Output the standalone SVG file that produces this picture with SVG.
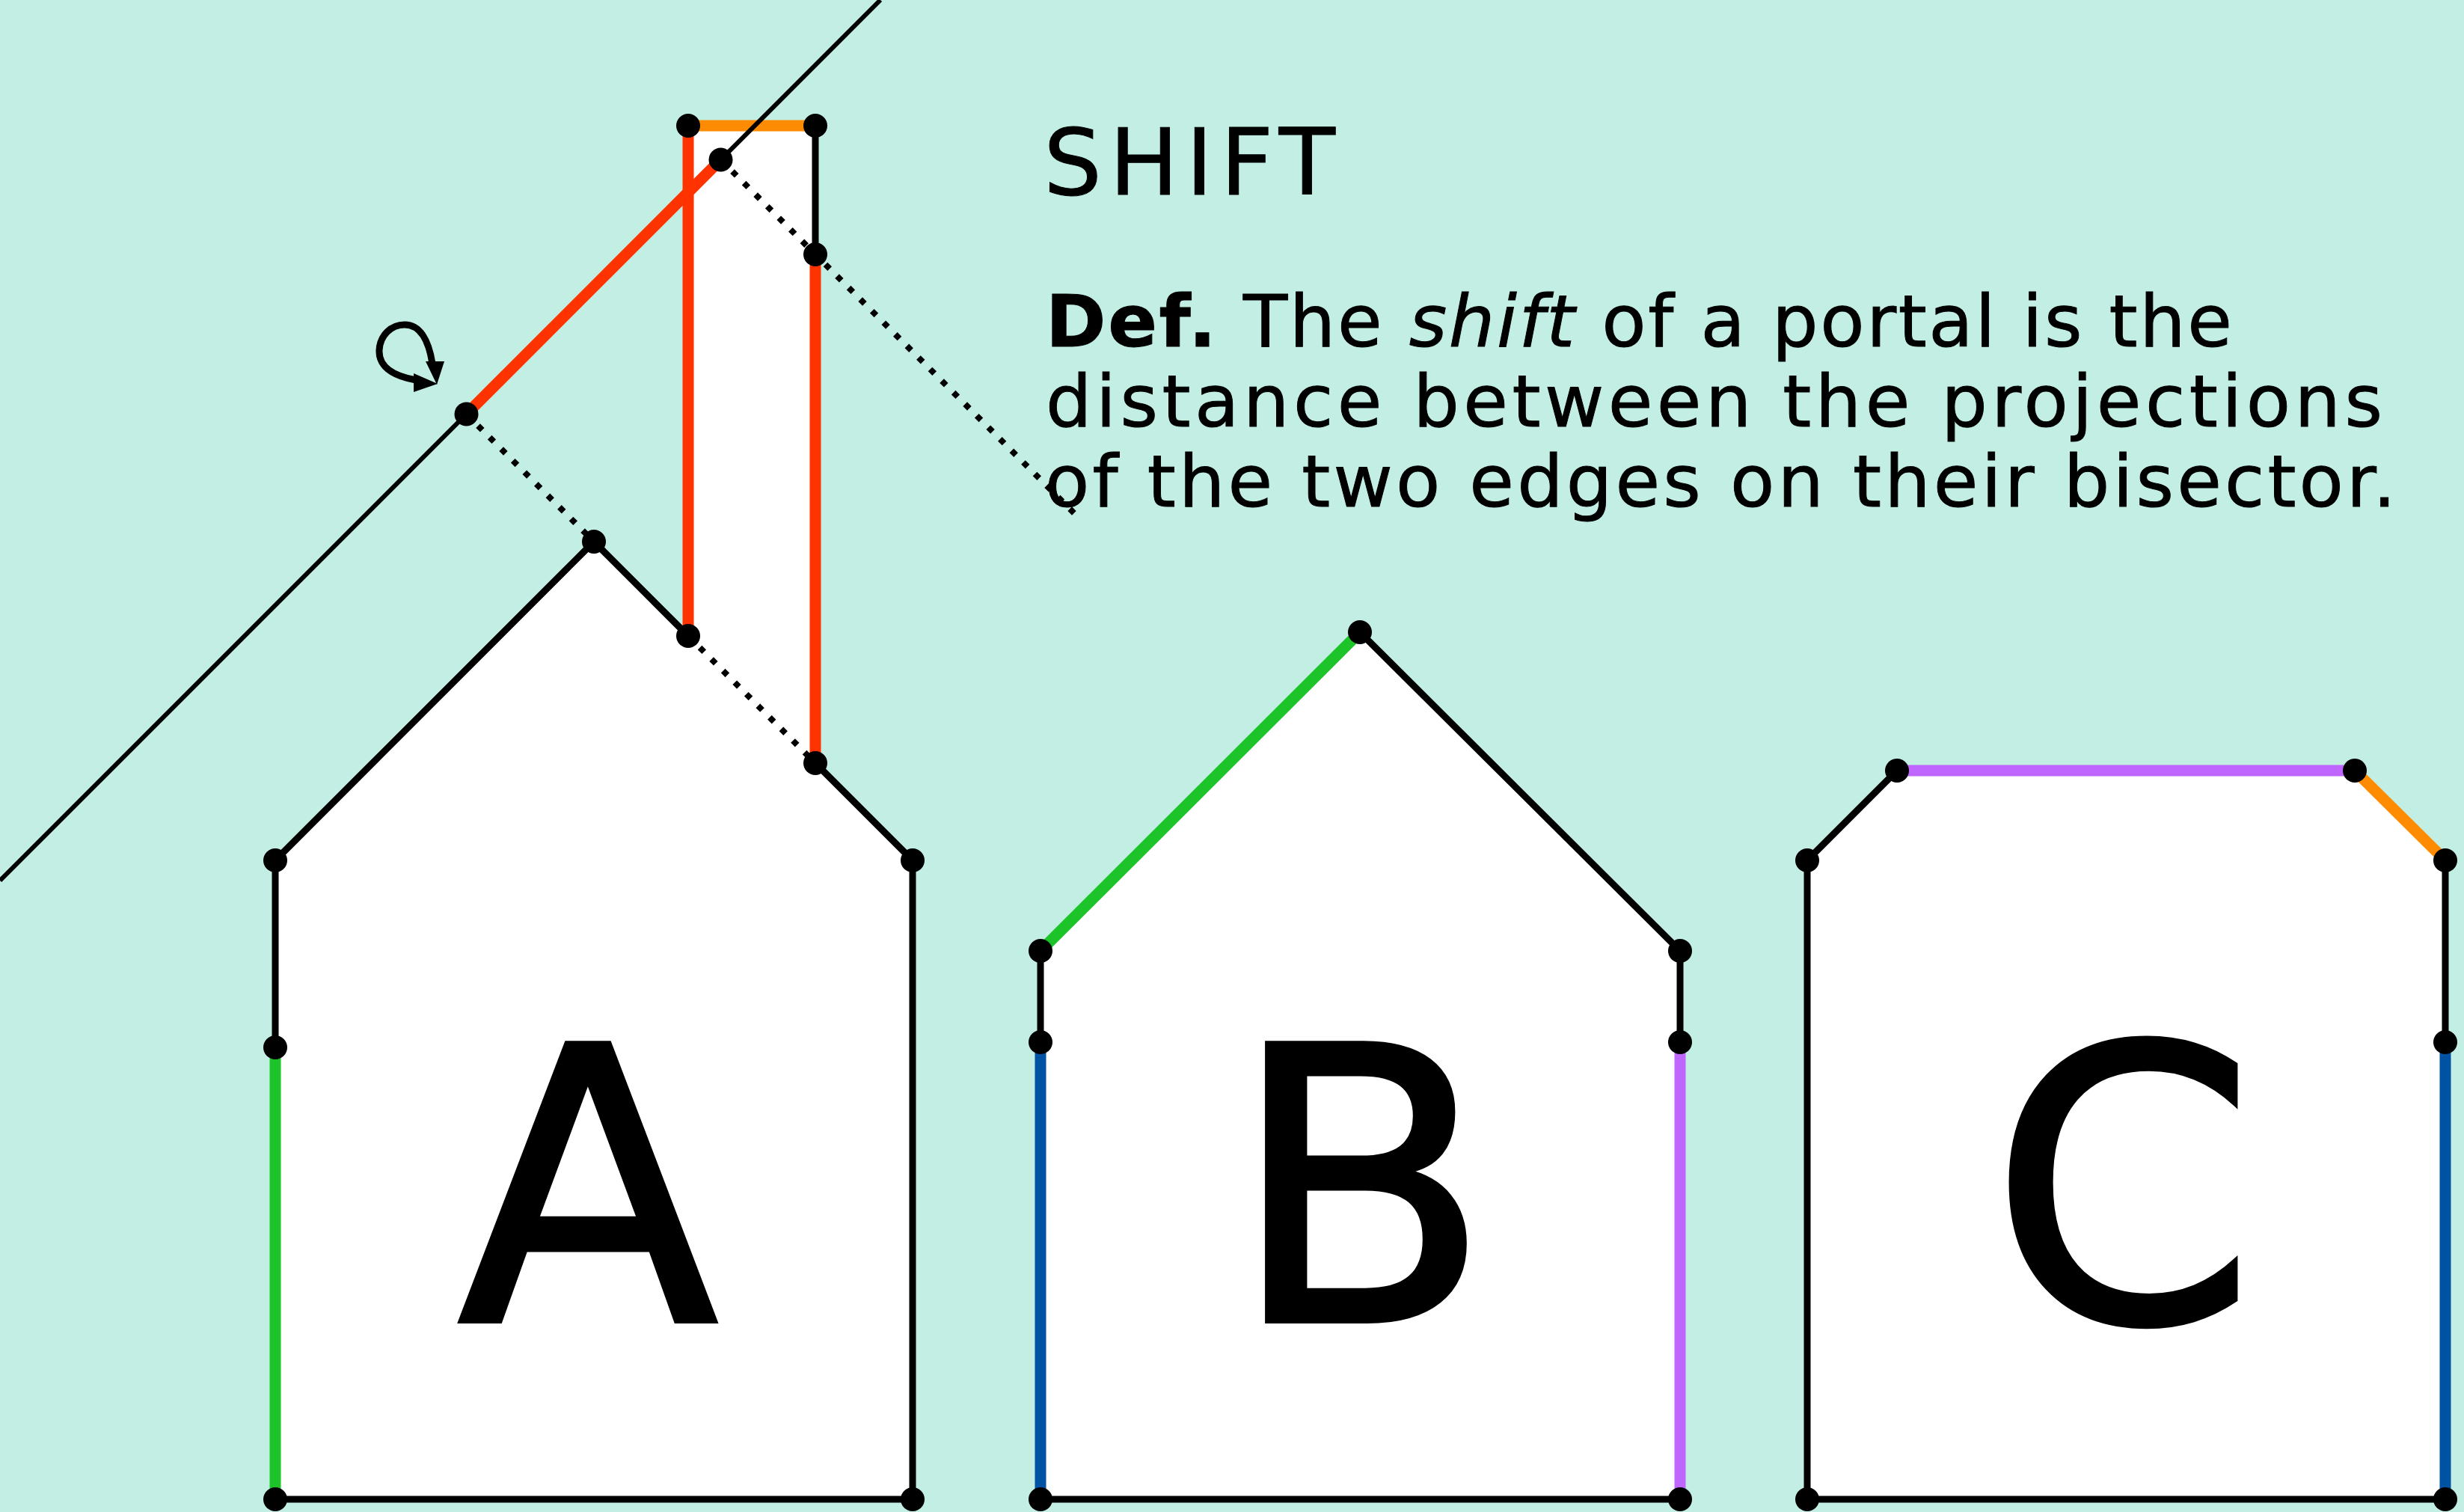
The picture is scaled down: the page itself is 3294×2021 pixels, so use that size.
<svg xmlns="http://www.w3.org/2000/svg" width="3294" height="2021" viewBox="0 0 3294 2021">
  <style>
    .fill { fill: #ffffff; stroke: none; }
    .edge { fill: none; stroke: #000000; stroke-width: 9; stroke-linecap: round; }
    .portal { fill: none; stroke-width: 15; stroke-linecap: butt; }
    .red { stroke: #ff3300; }
    .orange { stroke: #ff8c00; }
    .green { stroke: #1cc42a; }
    .blue { stroke: #0052a3; }
    .purple { stroke: #bf66ff; }
    .guide { fill: none; stroke: #000000; stroke-width: 6; }
    .proj { fill: none; stroke: #000000; stroke-width: 8; stroke-dasharray: 8 14; }
    .pt { fill: #000000; }
    .title { font-family: "DejaVu Sans", "Liberation Sans", sans-serif; font-size: 123px; fill: #000000; stroke: #000000; stroke-width: 1; }
    .body { font-family: "DejaVu Sans", "Liberation Sans", sans-serif; font-size: 97px; fill: #000000; stroke: #000000; stroke-width: 1; }
    .letter { font-family: "DejaVu Sans", "Liberation Sans", sans-serif; font-size: 510px; fill: #000000; stroke: #000000; stroke-width: 6; text-anchor: middle; }
  </style>

  <rect x="0" y="0" width="3294" height="2021" fill="#c3eee4"/>

  <!-- Polygon A with its raised chimney -->
  <g id="house-a">
    <polygon class="fill" points="368,2004 368,1150 794,724 920,850 920,168 1090,168 1090,1020 1220,1150 1220,2004"/>
    <line class="edge" x1="368" y1="2004" x2="1220" y2="2004"/>
    <line class="edge" x1="1220" y1="2004" x2="1220" y2="1150"/>
    <line class="edge" x1="1220" y1="1150" x2="1090" y2="1020"/>
    <line class="edge" x1="794" y1="724" x2="920" y2="850"/>
    <line class="edge" x1="794" y1="724" x2="368" y2="1150"/>
    <line class="edge" x1="368" y1="1150" x2="368" y2="1400"/>
    <line class="edge" x1="1090" y1="168" x2="1090" y2="340"/>
    <line class="proj" x1="920" y1="850" x2="1090" y2="1020"/>
    <line class="portal green" x1="368" y1="1400" x2="368" y2="2004"/>
    <line class="portal red" x1="920" y1="850" x2="920" y2="168"/>
    <line class="portal red" x1="1090" y1="340" x2="1090" y2="1020"/>
    <line class="portal orange" x1="920" y1="168" x2="1090" y2="168"/>
    <text class="letter" x="786" y="1766">A</text>
  </g>

  <!-- Polygon B -->
  <g id="house-b">
    <polygon class="fill" points="1391,2004 1391,1271 1818,845 2246,1271 2246,2004"/>
    <line class="edge" x1="1391" y1="2004" x2="2246" y2="2004"/>
    <line class="edge" x1="1818" y1="845" x2="2246" y2="1271"/>
    <line class="edge" x1="1391" y1="1271" x2="1391" y2="1393"/>
    <line class="edge" x1="2246" y1="1271" x2="2246" y2="1393"/>
    <line class="portal green" x1="1391" y1="1271" x2="1818" y2="845"/>
    <line class="portal blue" x1="1391" y1="1393" x2="1391" y2="2004"/>
    <line class="portal purple" x1="2246" y1="1393" x2="2246" y2="2004"/>
    <text class="letter" x="1819" y="1766">B</text>
  </g>

  <!-- Polygon C -->
  <g id="house-c">
    <polygon class="fill" points="2416,2004 2416,1150 2536,1030 3148,1030 3269,1150 3269,2004"/>
    <line class="edge" x1="2416" y1="2004" x2="3269" y2="2004"/>
    <line class="edge" x1="2416" y1="2004" x2="2416" y2="1150"/>
    <line class="edge" x1="2416" y1="1150" x2="2536" y2="1030"/>
    <line class="edge" x1="3269" y1="1150" x2="3269" y2="1393"/>
    <line class="portal purple" x1="2536" y1="1030" x2="3148" y2="1030"/>
    <line class="portal orange" x1="3148" y1="1030" x2="3269" y2="1150"/>
    <line class="portal blue" x1="3269" y1="1393" x2="3269" y2="2004"/>
    <text class="letter" x="2838" y="1766">C</text>
  </g>

  <!-- Bisector and projections -->
  <g id="connectors">
    <line class="guide" x1="0" y1="1177" x2="1177" y2="0"/>
    <line class="portal red" x1="623.5" y1="553.5" x2="963.5" y2="213.5"/>
    <line class="proj" x1="623.5" y1="553.5" x2="794" y2="724"/>
    <line class="proj" x1="963.5" y1="213.5" x2="1436" y2="686"/>
    <!-- rotation indicator -->
    <path d="M 556,508 C 522,502 506,488 507,468 C 508,448 523,434 541,434 C 561,434 573,454 578,486" fill="none" stroke="#000" stroke-width="9" stroke-linecap="round"/>
    <polygon points="569,483 594,483 584,514" fill="#000"/>
    <polygon points="553,499 553,524 585,513" fill="#000"/>
  </g>

  <!-- Vertices -->
  <g id="vertices">
    <circle class="pt" cx="368" cy="2004" r="16"/>
    <circle class="pt" cx="1220" cy="2004" r="16"/>
    <circle class="pt" cx="368" cy="1400" r="16"/>
    <circle class="pt" cx="368" cy="1150" r="16"/>
    <circle class="pt" cx="1220" cy="1150" r="16"/>
    <circle class="pt" cx="794" cy="724" r="16"/>
    <circle class="pt" cx="920" cy="850" r="16"/>
    <circle class="pt" cx="1090" cy="1020" r="16"/>
    <circle class="pt" cx="1090" cy="340" r="16"/>
    <circle class="pt" cx="920" cy="168" r="16"/>
    <circle class="pt" cx="1090" cy="168" r="16"/>
    <circle class="pt" cx="623.5" cy="553.5" r="16"/>
    <circle class="pt" cx="963.5" cy="213.5" r="16"/>

    <circle class="pt" cx="1391" cy="2004" r="16"/>
    <circle class="pt" cx="2246" cy="2004" r="16"/>
    <circle class="pt" cx="1391" cy="1393" r="16"/>
    <circle class="pt" cx="2246" cy="1393" r="16"/>
    <circle class="pt" cx="1391" cy="1271" r="16"/>
    <circle class="pt" cx="2246" cy="1271" r="16"/>
    <circle class="pt" cx="1818" cy="845" r="16"/>

    <circle class="pt" cx="2416" cy="2004" r="16"/>
    <circle class="pt" cx="3269" cy="2004" r="16"/>
    <circle class="pt" cx="2416" cy="1150" r="16"/>
    <circle class="pt" cx="2536" cy="1030" r="16"/>
    <circle class="pt" cx="3148" cy="1030" r="16"/>
    <circle class="pt" cx="3269" cy="1150" r="16"/>
    <circle class="pt" cx="3269" cy="1393" r="16"/>
  </g>

  <!-- Heading and definition -->
  <g id="caption">
    <text class="title" x="1395" y="260" textLength="390" lengthAdjust="spacing">SHIFT</text>
    <text class="body" x="1398" y="463" textLength="1586" lengthAdjust="spacing"><tspan font-weight="bold">Def.</tspan> The <tspan font-style="italic">shift</tspan> of a portal is the</text>
    <text class="body" x="1398" y="570" textLength="1787" lengthAdjust="spacing">distance between the projections</text>
    <text class="body" x="1397" y="677" textLength="1806" lengthAdjust="spacing">of the two edges on their bisector.</text>
  </g>
</svg>
